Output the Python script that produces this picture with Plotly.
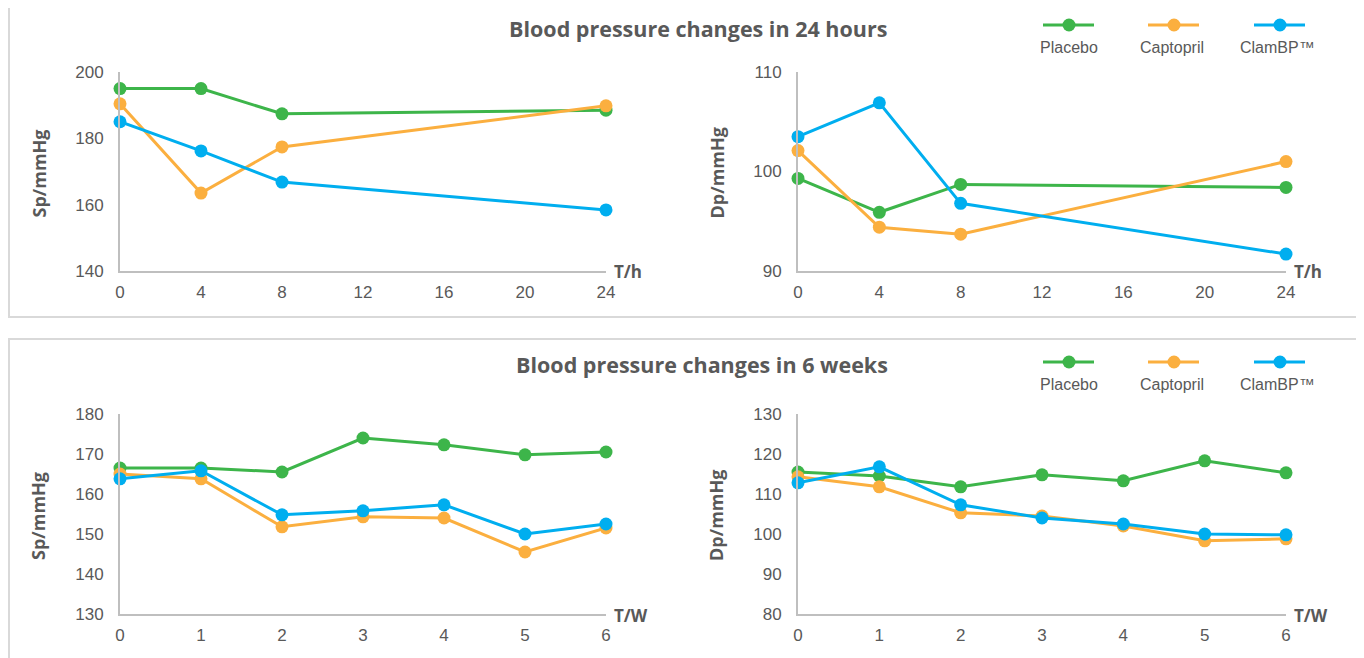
import plotly.graph_objects as go

# ---------------- data ----------------
hours = [0, 4, 8, 24]
weeks = [0, 1, 2, 3, 4, 5, 6]
series_names = ["Placebo", "Captopril", "ClamBP™"]

sp24_placebo = [195.0, 195.0, 187.4, 188.5]
sp24_captopril = [190.4, 163.5, 177.4, 189.8]
sp24_clambp = [185.0, 176.2, 166.8, 158.4]

dp24_placebo = [99.3, 95.9, 98.7, 98.4]
dp24_captopril = [102.1, 94.4, 93.7, 101.0]
dp24_clambp = [103.5, 106.9, 96.8, 91.7]

sp6_placebo = [166.5, 166.5, 165.5, 174.0, 172.3, 169.8, 170.5]
sp6_captopril = [165.0, 163.8, 151.8, 154.3, 154.0, 145.5, 151.5]
sp6_clambp = [163.8, 165.8, 154.8, 155.8, 157.3, 150.0, 152.5]

dp6_placebo = [115.5, 114.5, 111.8, 114.8, 113.3, 118.3, 115.3]
dp6_captopril = [114.3, 111.8, 105.3, 104.5, 102.0, 98.3, 98.8]
dp6_clambp = [112.8, 116.8, 107.3, 104.0, 102.5, 100.0, 99.8]

hour_ticks = [0, 4, 8, 12, 16, 20, 24]
week_ticks = [0, 1, 2, 3, 4, 5, 6]

titles = ["Blood pressure changes in 24 hours", "Blood pressure changes in 6 weeks"]
y_titles = ["Sp/mmHg", "Dp/mmHg"]
x_units = ["T/h", "T/W"]

# ---------------- style ----------------
OFF = 8  # page body margin of the browser
W, H = 1364 - OFF, 658 - OFF
colors = ["#3DB54A", "#FBAF3F", "#00AEEF"]
FONT = "Liberation Sans, Arial, sans-serif"
BOLD_FONT = "Open Sans, Liberation Sans, sans-serif"
GREY = "#595959"
AXIS = "#BFBFBF"


def px(x):
    return (x - OFF) / W


def py(y):
    return 1 - (y - OFF) / H


fig = go.Figure()

panels = [
    ("x", "y", hours, [sp24_placebo, sp24_captopril, sp24_clambp], [140, 200], 20, hour_ticks, [0, 24], 120, 606, 72, 271),
    ("x2", "y2", hours, [dp24_placebo, dp24_captopril, dp24_clambp], [90, 110], 10, hour_ticks, [0, 24], 798, 1286, 72, 271),
    ("x3", "y3", weeks, [sp6_placebo, sp6_captopril, sp6_clambp], [130, 180], 10, week_ticks, [0, 6], 120, 606, 414, 614),
    ("x4", "y4", weeks, [dp6_placebo, dp6_captopril, dp6_clambp], [80, 130], 10, week_ticks, [0, 6], 798, 1286, 414, 614),
]

layout_axes = {}
for i, (xa, ya, xs, ser, yr, ystep, xt, xr, l, r, t, b) in enumerate(panels):
    for name, vals, c in zip(series_names, ser, colors):
        fig.add_trace(go.Scatter(
            x=xs, y=vals, name=name, mode="lines+markers",
            xaxis=xa, yaxis=ya, showlegend=False, cliponaxis=False,
            line=dict(color=c, width=3),
            marker=dict(color=c, size=13),
        ))
    xkey = "xaxis" if xa == "x" else "xaxis" + xa[1:]
    ykey = "yaxis" if ya == "y" else "yaxis" + ya[1:]
    layout_axes[xkey] = dict(
        domain=[px(l), px(r)], range=xr, anchor=ya, tickvals=xt, automargin=False,
        showgrid=False, zeroline=False, showline=True, linecolor=AXIS, linewidth=2,
        ticks="", ticklabelstandoff=5,
        tickfont=dict(family=FONT, size=17, color=GREY), fixedrange=True,
    )
    layout_axes[ykey] = dict(
        domain=[py(b), py(t)], range=yr, anchor=xa, dtick=ystep, tick0=yr[0], automargin=False,
        showgrid=False, zeroline=False, showline=True, linecolor=AXIS, linewidth=2,
        ticks="", ticklabelstandoff=11,
        tickfont=dict(family=FONT, size=17, color=GREY), fixedrange=True,
    )

fig.update_layout(**layout_axes)

annotations = []
shapes = []

for i, (xa, ya, xs, ser, yr, ystep, xt, xr, l, r, t, b) in enumerate(panels):
    annotations.append(dict(
        x=px(l - 82), y=py((t + b) / 2 + 2), xref="paper", yref="paper",
        text="<b>%s</b>" % y_titles[i % 2], textangle=-90, showarrow=False,
        font=dict(family=BOLD_FONT, size=18, color=GREY), xanchor="center", yanchor="middle",
    ))
    annotations.append(dict(
        x=px(r + 6), y=py(b + 1), xref="paper", yref="paper",
        text="<b>%s</b>" % x_units[i // 2], showarrow=False,
        font=dict(family=BOLD_FONT, size=17, color=GREY), xanchor="left", yanchor="middle",
    ))

panel_boxes = [(6, 317), (339, 680)]
title_pos = [(698, 28), (702, 364)]
legend_offsets = [0, 337]
legend_items = [(1043, 1094, 1069, 1069), (1148, 1199, 1174, 1172), (1254, 1305, 1280, 1277)]

for p in range(2):
    top, bot = panel_boxes[p]
    shapes.append(dict(type="rect", xref="paper", yref="paper",
                       x0=px(9), x1=px(1363), y0=py(bot), y1=py(top),
                       line=dict(color="#D9D9D9", width=2), fillcolor="rgba(0,0,0,0)", layer="below"))
    tx, ty = title_pos[p]
    annotations.append(dict(
        x=px(tx), y=py(ty), xref="paper", yref="paper", text="<b>%s</b>" % titles[p],
        showarrow=False, font=dict(family=BOLD_FONT, size=21.5, color=GREY),
        xanchor="center", yanchor="middle",
    ))
    off = legend_offsets[p]
    for (x0, x1, mx, tx2), c, name in zip(legend_items, colors, series_names):
        ly = 25 + off
        shapes.append(dict(type="line", xref="paper", yref="paper",
                           x0=px(x0), x1=px(x1), y0=py(ly), y1=py(ly),
                           line=dict(color=c, width=3)))
        rr = 6.5
        shapes.append(dict(type="circle", xref="paper", yref="paper",
                           x0=px(mx - rr), x1=px(mx + rr), y0=py(ly + rr), y1=py(ly - rr),
                           line=dict(color=c, width=0), fillcolor=c))
        annotations.append(dict(
            x=px(tx2), y=py(47 + off), xref="paper", yref="paper", text=name,
            showarrow=False, font=dict(family=FONT, size=16, color=GREY),
            xanchor="center", yanchor="middle",
        ))

fig.update_layout(
    template="none",
    width=W, height=H, margin=dict(l=0, r=0, t=0, b=0, autoexpand=False),
    paper_bgcolor="white", plot_bgcolor="white",
    showlegend=False, annotations=annotations, shapes=shapes,
    font=dict(family=FONT, color=GREY),
)

fig.write_html("out.html", config={"displayModeBar": False})
